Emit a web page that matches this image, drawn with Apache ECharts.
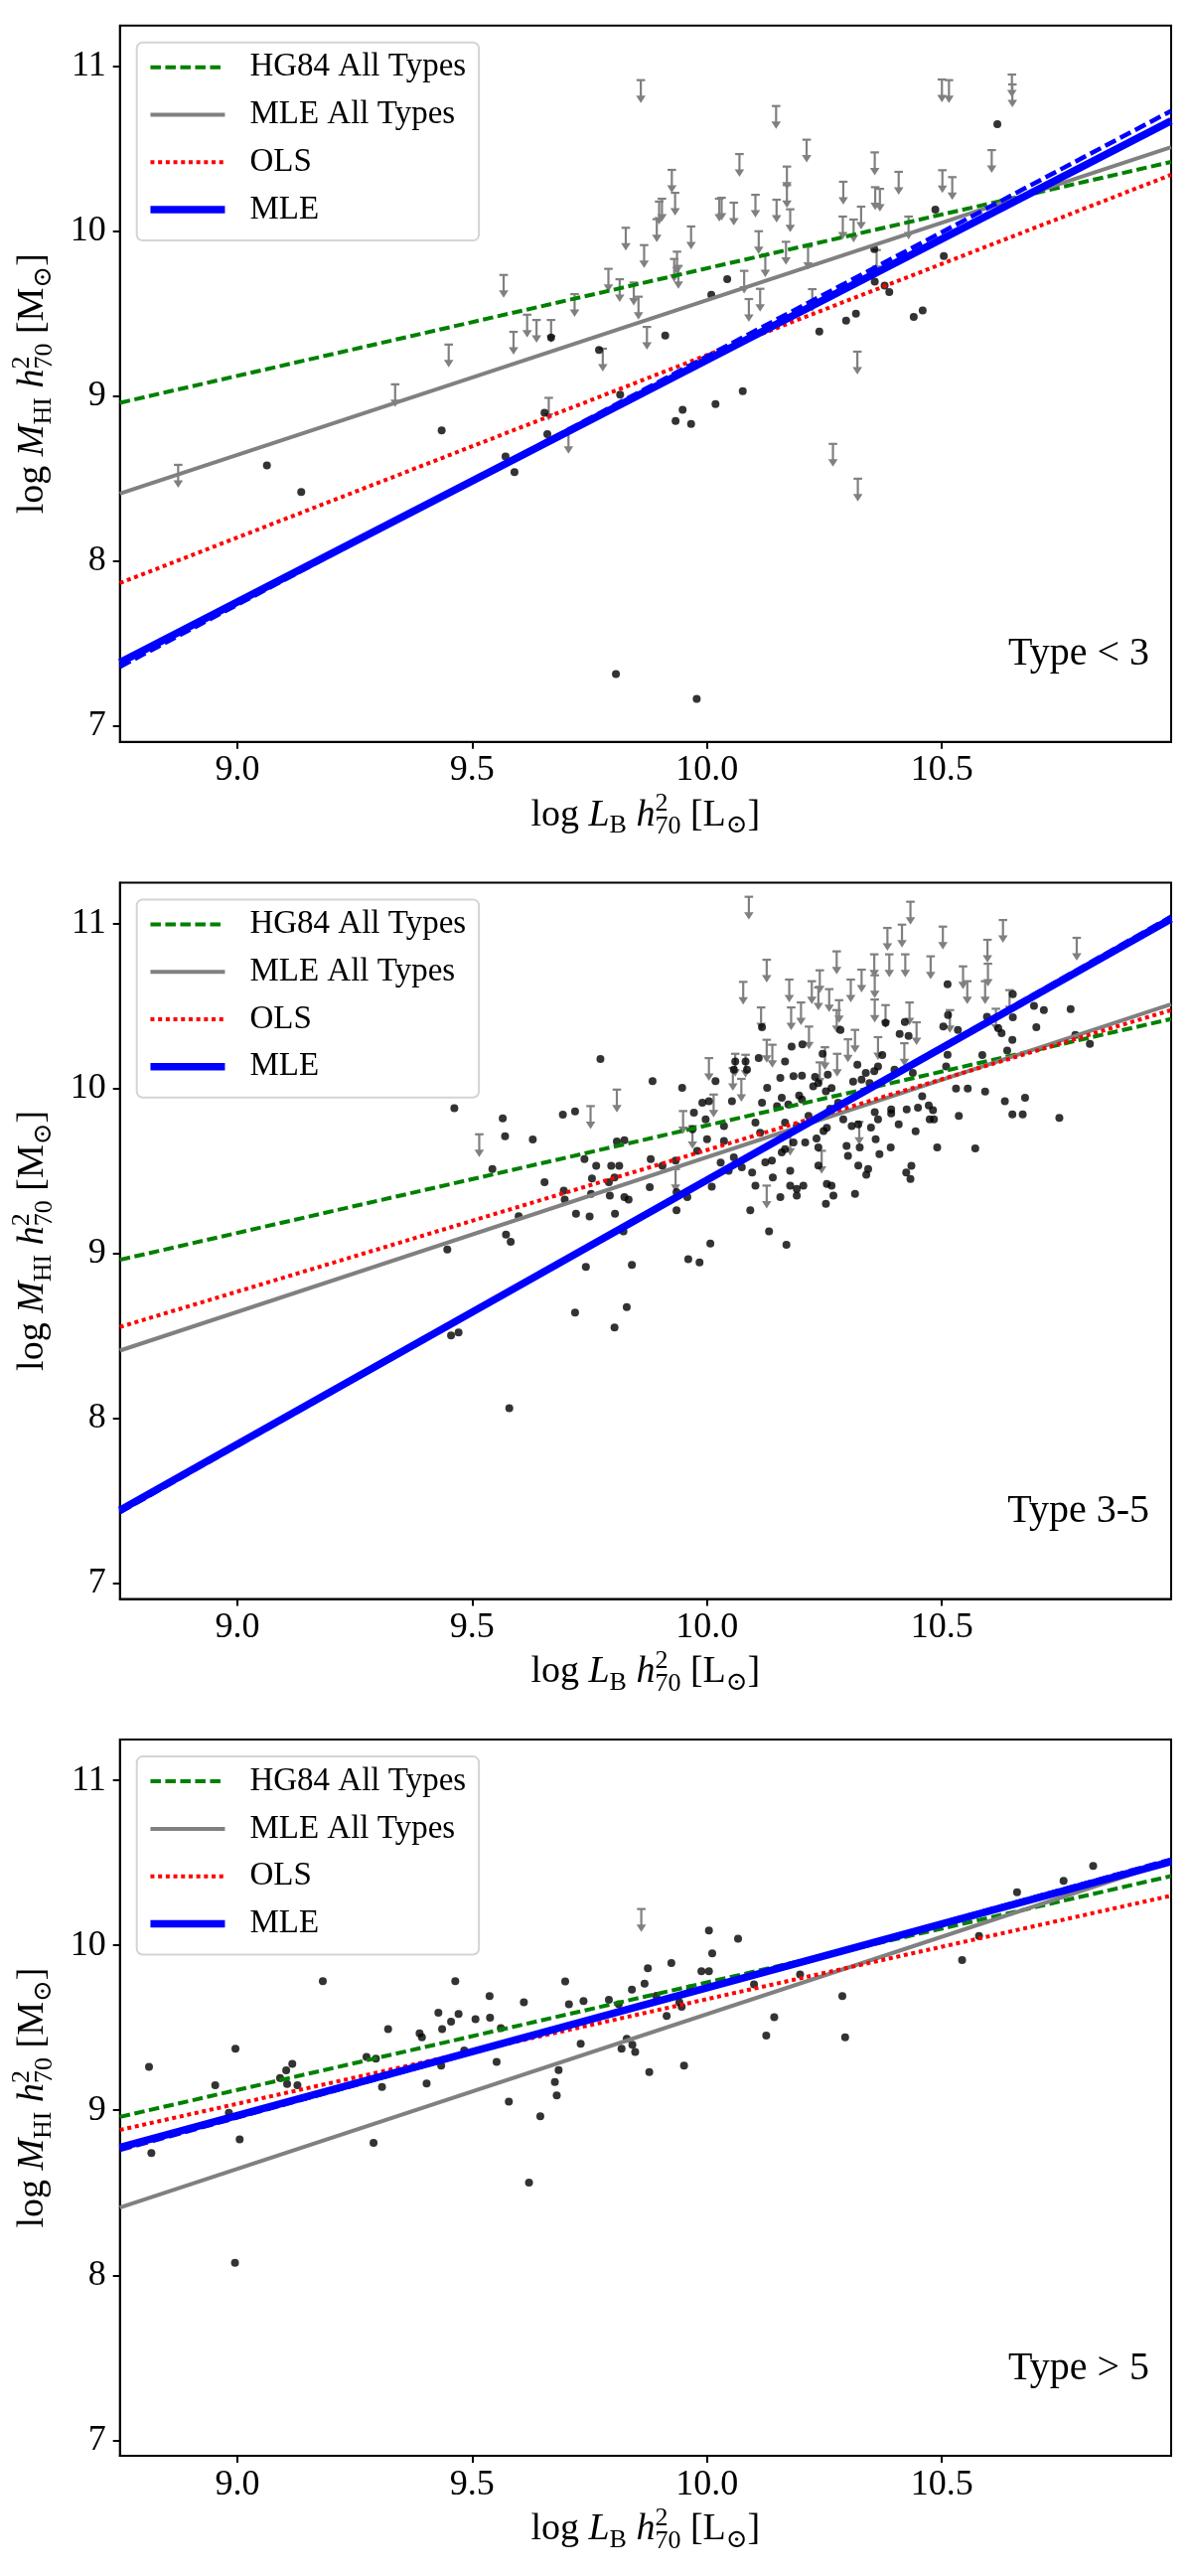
<!DOCTYPE html>
<html><head><meta charset="utf-8">
<script src="https://cdn.jsdelivr.net/npm/echarts@6/dist/echarts.min.js"></script>
<style>html,body{margin:0;padding:0;background:#fff}#chart{width:1200px;height:2593px}</style>
</head><body><div id="chart"></div>
<script>
// ---------------- data ----------------
const xRange = [8.75, 10.988];
const yRange = [6.905, 11.247];
const xTicks = [9.0, 9.5, 10.0, 10.5];
const yTicks = [7, 8, 9, 10, 11];
const legendNames = ['HG84 All Types', 'MLE All Types', 'OLS', 'MLE'];
const panelTitles = ['Type < 3', 'Type 3-5', 'Type > 5'];

// fitted lines, evaluated at the two ends of the x range
const fitX = [8.75, 10.988];
const hg84Y = [8.96, 10.42];
const mleAllY = [8.41, 10.51];
const olsY = [[7.867, 10.342], [8.553, 10.474], [8.881, 10.301]];
const mleY = [[7.386, 10.669], [7.442, 11.026], [8.775, 10.508]];
const mleDashY = [[7.36, 10.729], [7.43, 11.04], [8.76, 10.52]];

// Panel 1 (Type < 3)
const p1Points = [[9.668,9.355],[9.435,8.793],[9.654,8.900],[9.660,8.770],[10.618,10.649],[10.486,10.131],[10.043,9.709],[10.009,9.615],[9.911,9.368],[9.770,9.280],[10.356,9.892],[10.504,9.850],[10.357,9.695],[10.378,9.671],[10.388,9.631],[10.317,9.500],[10.296,9.458],[10.239,9.392],[10.440,9.480],[10.459,9.520],[9.815,9.010],[9.948,8.918],[9.933,8.850],[9.966,8.832],[10.018,8.952],[10.076,9.030],[9.063,8.581],[9.136,8.420],[9.571,8.635],[9.590,8.540],[9.806,7.316],[9.978,7.165]];
const p1Limits = [[9.859,10.916],[10.147,10.759],[10.212,10.555],[10.069,10.468],[9.925,10.372],[10.170,10.392],[10.357,10.478],[10.408,10.360],[10.501,10.370],[10.522,10.328],[10.290,10.300],[10.606,10.492],[10.500,10.920],[10.515,10.916],[10.649,10.950],[10.650,10.890],[10.358,10.267],[10.368,10.257],[9.932,10.233],[9.904,10.197],[9.898,10.180],[10.031,10.203],[10.026,10.197],[10.057,10.173],[10.103,10.221],[10.148,10.191],[10.170,10.280],[10.177,10.133],[10.328,10.149],[10.289,10.089],[10.312,10.071],[10.429,10.089],[9.893,10.073],[9.966,10.029],[9.827,10.021],[10.110,10.000],[9.866,9.916],[9.936,9.876],[9.930,9.832],[10.168,9.936],[10.124,9.860],[10.215,9.906],[9.790,9.772],[9.814,9.709],[9.844,9.689],[9.854,9.603],[10.079,9.760],[10.113,9.651],[10.089,9.589],[9.939,9.790],[9.872,9.420],[9.778,9.288],[10.224,9.649],[10.320,9.270],[10.361,9.886],[10.268,8.711],[10.321,8.500],[8.874,8.584],[9.705,8.790],[9.663,8.990],[9.567,9.735],[9.718,9.619],[9.617,9.494],[9.637,9.462],[9.668,9.462],[9.588,9.390],[9.450,9.313],[9.336,9.072]];

// Panel 2 (Type 3-5)
const p2Points = [[9.462,9.880],[9.565,9.818],[9.570,9.709],[9.629,9.689],[9.693,9.840],[9.719,9.860],[9.773,10.177],[9.808,9.677],[9.824,9.685],
[10.512,10.631],[10.651,10.571],[10.696,10.500],[10.717,10.474],[10.774,10.480],[10.701,10.370],[10.513,10.444],[10.534,10.354],[10.596,10.434],[10.651,10.430],[10.620,10.364],[10.627,10.334],[10.650,10.294],[10.784,10.324],[10.815,10.269],[10.639,10.229],[10.586,10.201],[10.512,10.203],[10.530,9.998],[10.555,9.998],[10.592,9.980],[10.536,9.832],[10.634,9.922],[10.677,9.942],[10.650,9.842],[10.672,9.842],[10.750,9.820],[10.571,9.635],[10.509,10.133],
[10.380,10.398],[10.421,10.402],[10.410,10.330],[10.429,10.318],[10.503,10.374],[10.284,10.354],[10.203,10.267],[10.246,10.209],[10.373,10.201],[10.320,10.143],[10.364,10.133],[10.356,10.103],[10.338,10.093],[10.329,10.053],[10.346,10.032],[10.311,10.040],[10.257,10.083],[10.230,10.069],[10.202,10.077],[10.237,10.032],[10.226,10.012],[10.253,9.982],[10.265,10.002],[10.196,9.956],[10.399,10.113],[10.438,10.093],[10.458,9.952],[10.472,9.896],[10.481,9.868],[10.474,9.812],[10.483,9.812],[10.449,9.882],[10.425,9.872],[10.392,9.872],[10.392,9.848],[10.357,9.856],[10.364,9.812],[10.349,9.762],[10.408,9.781],[10.444,9.739],[10.279,9.912],[10.262,9.876],[10.290,9.812],[10.308,9.771],[10.322,9.781],[10.255,9.761],[10.248,9.741],[10.216,9.832],[10.202,9.932],[10.233,9.695],[10.209,9.671],[10.297,9.651],[10.325,9.641],[10.359,9.691],[10.391,9.641],[10.490,9.641],[10.237,9.641],[10.191,9.771],
[9.969,9.751],[10.000,9.691],[9.979,9.621],[10.036,9.681],[10.057,9.581],[10.074,9.521],[10.096,9.490],[10.103,9.410],[10.092,9.260],[10.124,9.551],[10.138,9.561],[10.159,9.611],[10.166,9.631],[10.177,9.500],[10.184,9.671],[10.237,9.531],[10.255,9.420],[10.265,9.410],[10.269,9.350],[10.253,9.300],[10.435,9.530],[10.433,9.450],[10.315,9.360],[10.322,9.531],[10.343,9.510],[9.884,10.043],[9.947,10.003],[9.880,9.571],[9.933,9.561],[9.878,9.400],[9.935,9.260],[9.958,9.340],[10.010,9.404],[10.036,9.771],[10.117,9.912],[10.128,10.003],[10.149,9.892],[10.156,10.063],[10.159,9.942],[10.184,10.073],[10.173,9.902],[10.166,9.792],[10.103,9.792],[10.113,9.731],[10.180,10.253],[10.117,10.370],[10.110,10.183],[10.166,10.163],[10.085,10.113],[10.057,10.113],[10.060,10.163],[10.082,10.163],[10.018,10.043],[9.990,9.912],[10.004,9.922],[9.972,9.852],[9.997,9.812],[10.053,9.922],
[9.905,9.530],[9.935,9.370],[10.029,9.550],[10.046,9.500],[10.140,9.460],[10.177,9.410],[10.156,9.340],[10.300,9.591],[10.367,9.601],[10.339,9.476],[10.424,9.490],[10.205,9.410],[10.191,9.390],[10.191,9.350],
[9.543,9.510],[9.447,9.022],[9.572,9.113],[9.582,9.069],[9.654,9.430],[9.599,9.225],[9.739,9.571],[9.764,9.530],[9.796,9.530],[9.813,9.530],[9.755,9.454],[9.803,9.460],[9.791,9.430],[9.695,9.380],[9.697,9.326],[9.753,9.360],[9.793,9.350],[9.824,9.340],[9.833,9.326],[9.721,9.239],[9.750,9.223],[9.804,9.239],[9.822,9.133],[9.742,8.918],[9.840,8.930],[9.719,8.641],[9.829,8.673],[9.803,8.550],[9.455,8.502],[9.471,8.520],[9.579,8.061],[9.960,8.964],[9.984,8.944],[10.007,9.059],[10.169,9.051],[10.132,9.133]];
const p2Limits = [[10.089,11.161],[10.127,10.779],[10.077,10.645],[10.175,10.659],[10.115,10.490],[10.179,10.490],[9.808,9.992],[9.752,9.892],[9.515,9.721],
[10.433,11.131],[10.384,10.972],[10.415,10.992],[10.502,10.980],[10.630,11.020],[10.597,10.900],[10.598,10.755],[10.787,10.912],[10.276,10.830],[10.356,10.812],[10.388,10.812],[10.422,10.812],[10.476,10.800],[10.545,10.739],[10.240,10.715],[10.329,10.719],[10.357,10.685],[10.223,10.649],[10.237,10.611],[10.306,10.659],[10.260,10.601],[10.554,10.649],[10.592,10.649],[10.644,10.595],[10.281,10.534],[10.276,10.474],[10.357,10.538],[10.380,10.504],[10.431,10.520],[10.200,10.520],[10.517,10.474],[10.446,10.400],[10.615,10.482],
[10.217,10.374],[10.315,10.354],[10.300,10.297],[10.364,10.310],[10.420,10.273],[10.251,10.249],[10.277,10.209],[10.240,10.157],[10.324,9.796],
[10.004,10.183],[10.060,10.209],[10.082,10.203],[10.127,10.294],[10.139,10.264],[10.073,10.057],[10.055,10.123],[10.014,9.962],[9.949,9.862],[9.969,9.771],[10.177,9.731],[9.933,9.510],[10.127,9.410],[10.244,9.621]];

// Panel 3 (Type > 5)
const p3Points = [[8.812,9.263],[8.817,8.741],[8.953,9.152],[8.996,9.373],[9.005,8.823],[8.982,8.985],[9.182,9.783],[9.091,9.196],[9.104,9.242],[9.117,9.281],[9.106,9.160],[9.128,9.152],[9.275,9.323],[9.295,9.313],[9.321,9.492],[9.308,9.142],[9.290,8.803],[9.388,9.467],[9.393,9.443],[9.428,9.592],[9.436,9.492],[9.455,9.538],[9.471,9.584],[9.464,9.783],[9.507,9.552],[9.537,9.692],[9.538,9.562],[9.483,9.363],[9.434,9.271],[9.403,9.162],[9.552,9.293],[9.561,9.498],[9.610,9.654],[9.578,9.052],[9.645,8.963],[9.621,8.562],[9.698,9.781],[9.706,9.642],[9.737,9.662],[9.731,9.403],[9.684,9.243],[9.676,9.172],[9.680,9.090],[9.791,9.670],[9.812,9.642],[9.840,9.732],[9.867,9.768],[9.829,9.433],[9.818,9.373],[9.841,9.397],[9.847,9.353],[8.995,8.075],
[10.004,10.090],[10.066,10.040],[10.011,9.951],[9.924,9.893],[9.874,9.861],[9.988,9.843],[10.004,9.843],[9.892,9.694],[9.964,9.739],[9.941,9.654],[9.946,9.628],[9.914,9.572],[9.877,9.232],[9.951,9.271],[10.100,9.763],[10.198,9.823],[10.288,9.692],[10.143,9.564],[10.126,9.453],[10.294,9.443],[10.543,9.911],[10.579,10.056],[10.660,10.321],[10.759,10.391],[10.822,10.481]];
const p3Limits = [[9.860,10.220]];

const panelPoints = [p1Points, p2Points, p3Points];
const panelLimits = [p1Limits, p2Limits, p3Limits];

// ---------------- layout / style ----------------
const FONT = '"Liberation Serif","Times New Roman","DejaVu Serif",serif';
const GRID_LEFT = 120.7, GRID_W = 1058.3, GRID_H = 721;
const TOPS = [25.7, 888.4, 1751.1];
const COL = {green: '#008000', gray: '#808080', red: '#ff0000', blue: '#0000ff'};
const LS = {
  hg84: {color: COL.green, width: 4, type: [10.5, 4.5]},
  mleAll: {color: COL.gray, width: 4, type: 'solid'},
  ols: {color: COL.red, width: 4, type: [4, 3.7]},
  mle: {color: COL.blue, width: 7.5, type: 'solid'},
  mleDash: {color: COL.blue, width: 4.5, type: [12, 5]}
};

const ctx = document.createElement('canvas').getContext('2d');
function measure(t, size, italic) {
  ctx.font = (italic ? 'italic ' : '') + size + 'px ' + FONT;
  return ctx.measureText(t).width;
}
const S = 38, s = 26;
function off(size, d) { return 0.33 * (S - size) + d; }
function buildLabel(pieces) {
  let x = 0; const items = [];
  pieces.forEach(p => {
    if (p.stack) {
      let w = 0;
      p.stack.forEach(q => { items.push({t: q.t, size: q.size, it: false, x: x, dy: off(q.size, q.d)}); w = Math.max(w, measure(q.t, q.size, false)); });
      x += w;
    } else {
      items.push({t: p.t, size: p.size, it: !!p.it, x: x, dy: off(p.size, p.d || 0)});
      x += measure(p.t, p.size, !!p.it);
    }
  });
  return {items, width: x};
}
function labelGraphic(pieces, cx, cy, rot) {
  const L = buildLabel(pieces);
  return {
    type: 'group', x: cx, y: cy, rotation: rot, silent: true,
    children: L.items.map(it => ({
      type: 'text', x: it.x - L.width / 2, y: it.dy,
      style: {text: it.t, fontSize: it.size, fontFamily: FONT, fontStyle: it.it ? 'italic' : 'normal', fill: '#000', align: 'left', verticalAlign: 'middle'}
    }))
  };
}
const h2_70 = {stack: [{t: '2', size: s, d: -15}, {t: '70', size: s, d: 8}]};
const yLabelPieces = [{t: 'log ', size: S}, {t: 'M', size: S, it: true}, {t: 'HI', size: s, d: 7}, {t: ' ', size: S}, {t: 'h', size: S, it: true}, h2_70, {t: ' [M', size: S}, {t: '\u2299', size: s, d: 7}, {t: ']', size: S}];
const xLabelPieces = [{t: 'log ', size: S}, {t: 'L', size: S, it: true}, {t: 'B', size: s, d: 7}, {t: ' ', size: S}, {t: 'h', size: S, it: true}, h2_70, {t: ' [L', size: S}, {t: '\u2299', size: s, d: 7}, {t: ']', size: S}];

function lineData(ys) { return fitX.map((x, i) => [x, ys[i]]); }

function arrowItem(params, api) {
  const p = api.coord([api.value(0), api.value(1)]);
  const st = {stroke: COL.gray, lineWidth: 2.2};
  return {type: 'group', children: [
    {type: 'line', shape: {x1: p[0] - 4.3, y1: p[1], x2: p[0] + 4.3, y2: p[1]}, style: st},
    {type: 'line', shape: {x1: p[0], y1: p[1], x2: p[0], y2: p[1] + 17}, style: st},
    {type: 'polygon', shape: {points: [[p[0] - 4.8, p[1] + 15.5], [p[0] + 4.8, p[1] + 15.5], [p[0], p[1] + 23]]}, style: {fill: COL.gray}}
  ]};
}

const legendData = [
  {name: legendNames[0], lineStyle: LS.hg84},
  {name: legendNames[1], lineStyle: LS.mleAll},
  {name: legendNames[2], lineStyle: LS.ols},
  {name: legendNames[3], lineStyle: LS.mle}
];

const grids = [], xAxes = [], yAxes = [], series = [], legends = [], graphics = [];
TOPS.forEach((top, i) => {
  grids.push({left: GRID_LEFT, top: top, width: GRID_W, height: GRID_H, show: true, borderColor: '#000', borderWidth: 2, backgroundColor: 'transparent'});
  xAxes.push({gridIndex: i, type: 'value', min: xRange[0], max: xRange[1],
    axisLine: {show: true, onZero: false, lineStyle: {color: '#000', width: 2}},
    axisTick: {show: true, length: 7, lineStyle: {color: '#000', width: 2}, customValues: xTicks},
    axisLabel: {customValues: xTicks, formatter: v => v.toFixed(1), fontSize: 36, fontFamily: FONT, color: '#000', margin: 11},
    splitLine: {show: false}});
  yAxes.push({gridIndex: i, type: 'value', min: yRange[0], max: yRange[1],
    axisLine: {show: true, onZero: false, lineStyle: {color: '#000', width: 2}},
    axisTick: {show: true, length: 7, lineStyle: {color: '#000', width: 2}, customValues: yTicks},
    axisLabel: {customValues: yTicks, formatter: v => String(Math.round(v)), fontSize: 36, fontFamily: FONT, color: '#000', margin: 14},
    splitLine: {show: false}});
  series.push({type: 'scatter', name: 'galaxies', xAxisIndex: i, yAxisIndex: i, data: panelPoints[i], symbolSize: 8, itemStyle: {color: '#000'}, z: 2, silent: true});
  series.push({type: 'custom', name: 'upper limits', xAxisIndex: i, yAxisIndex: i, data: panelLimits[i], renderItem: arrowItem, z: 2, silent: true});
  series.push({type: 'line', name: legendNames[0], xAxisIndex: i, yAxisIndex: i, data: lineData(hg84Y), symbol: 'none', lineStyle: LS.hg84, itemStyle: {color: COL.green}, z: 3, silent: true});
  series.push({type: 'line', name: legendNames[1], xAxisIndex: i, yAxisIndex: i, data: lineData(mleAllY), symbol: 'none', lineStyle: LS.mleAll, itemStyle: {color: COL.gray}, z: 3, silent: true});
  series.push({type: 'line', name: legendNames[2], xAxisIndex: i, yAxisIndex: i, data: lineData(olsY[i]), symbol: 'none', lineStyle: LS.ols, itemStyle: {color: COL.red}, z: 3, silent: true});
  series.push({type: 'line', name: 'MLE dashed', xAxisIndex: i, yAxisIndex: i, data: lineData(mleDashY[i]), symbol: 'none', lineStyle: LS.mleDash, itemStyle: {color: COL.blue}, z: 3, silent: true});
  series.push({type: 'line', name: legendNames[3], xAxisIndex: i, yAxisIndex: i, data: lineData(mleY[i]), symbol: 'none', lineStyle: LS.mle, itemStyle: {color: COL.blue}, z: 3, silent: true});
  legends.push({orient: 'vertical', left: 137.7, top: top + 17, padding: [5, 13, 11, 10], itemGap: 7.8, itemWidth: 75, itemHeight: 14,
    backgroundColor: 'rgba(255,255,255,0.8)', borderColor: '#d4d4d4', borderWidth: 2, borderRadius: 6, selectedMode: false,
    itemStyle: {opacity: 0},
    textStyle: {fontSize: 33, fontFamily: FONT, color: '#000', lineHeight: 40, padding: [0, 0, 0, 20]},
    data: legendData});
  graphics.push(labelGraphic(yLabelPieces, 33, top + GRID_H / 2, Math.PI / 2));
  graphics.push(labelGraphic(xLabelPieces, GRID_LEFT + GRID_W / 2, top + GRID_H + 74, 0));
  graphics.push({type: 'text', x: 1157, y: top + GRID_H - 88, silent: true, style: {text: panelTitles[i], fontSize: 40, fontFamily: FONT, fill: '#000', align: 'right', verticalAlign: 'middle'}});
});

const chart = echarts.init(document.getElementById('chart'), null, {renderer: 'canvas'});
chart.setOption({animation: false, backgroundColor: '#fff', grid: grids, xAxis: xAxes, yAxis: yAxes, series: series, legend: legends, graphic: graphics});
</script></body></html>
